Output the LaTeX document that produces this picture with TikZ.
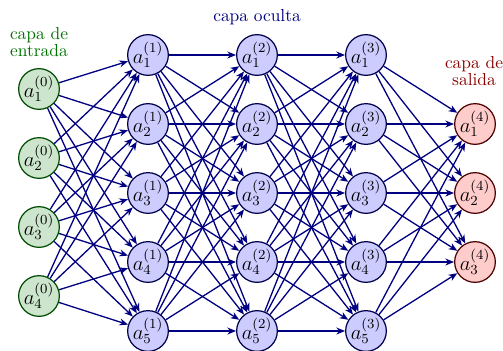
\documentclass[tikz,border=0pt]{standalone}
\usetikzlibrary{arrows.meta}
\begin{document}
\begin{tikzpicture}[x=0.575pt,y=-0.575pt,
  neuron/.style={circle,minimum size=23.4pt,inner sep=0pt,line width=0.7pt,font=\large},
  inp/.style={neuron,draw=green!30!black,fill=green!50!black!20},
  hid/.style={neuron,draw=blue!30!black,fill=blue!20},
  outp/.style={neuron,draw=red!30!black,fill=red!20},
  conn/.style={-{Stealth[length=5pt,width=4pt]},draw=blue!50!black,line width=0.75pt},
  lbl/.style={align=center,inner sep=0pt}]
\useasboundingbox (0,0) rectangle (503,350);
% input layer
\foreach \i/\y in {1/89,2/158,3/227,4/296}
  \node[inp] (L0-\i) at (39,\y) {$a_{\i}^{(0)}$};
% hidden layers
\foreach \l/\x in {1/148,2/257,3/366}
  \foreach \i/\y in {1/55,2/124,3/193,4/262,5/331}
    \node[hid] (L\l-\i) at (\x,\y) {$a_{\i}^{(\l)}$};
% output layer
\foreach \i/\y in {1/124,2/193,3/262}
  \node[outp] (L4-\i) at (475,\y) {$a_{\i}^{(4)}$};
% connections
\foreach \i in {1,...,4}
  \foreach \j in {1,...,5}
    \draw[conn] (L0-\i) -- (L1-\j);
\foreach \l [evaluate=\l as \m using int(\l+1)] in {1,2}
  \foreach \i in {1,...,5}
    \foreach \j in {1,...,5}
      \draw[conn] (L\l-\i) -- (L\m-\j);
\foreach \i in {1,...,5}
  \foreach \j in {1,...,3}
    \draw[conn] (L3-\i) -- (L4-\j);
% labels
\node[lbl,text=green!45!black] (tin) at (39,42) {capa de\\[-2.6pt]entrada};
\node[lbl,text=blue!50!black] (thid) at (257,17) {capa oculta};
\node[lbl,text=red!55!black] (tout) at (474,71) {capa de\\[-2.6pt]salida};
\end{tikzpicture}
\end{document}
